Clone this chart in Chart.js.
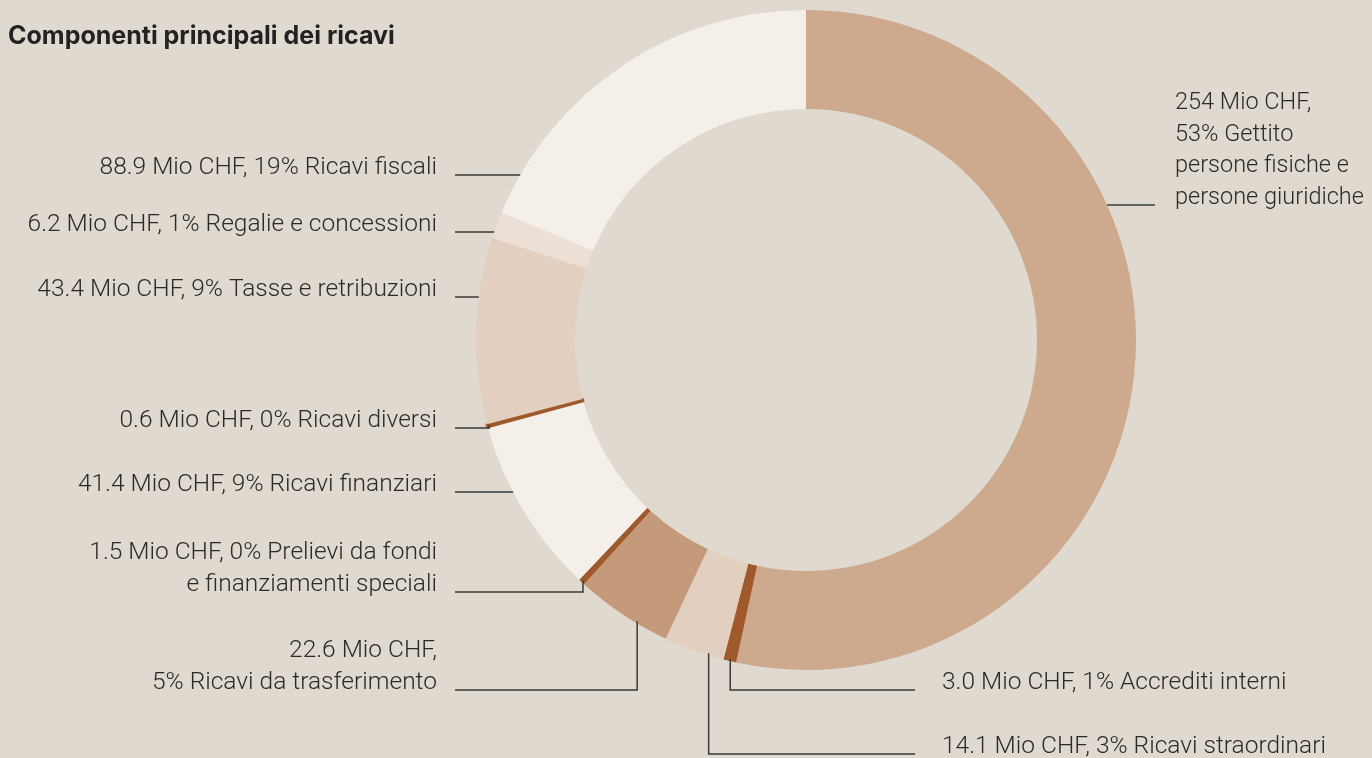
<!DOCTYPE html>
<html>
<head>
<meta charset="utf-8">
<script src="https://cdn.jsdelivr.net/npm/chart.js@4.4.1/dist/chart.umd.min.js"></script>
<style>
    html, body { margin: 0; padding: 0; background: #e0d9cf; }
    #wrap { position: relative; width: 1372px; height: 758px; overflow: hidden; }
    h1 { position: absolute; left: 8px; top: 20px; margin: 0; font: 700 25px Inter, sans-serif; line-height: 30px; color: #222; }
    canvas { position: absolute; left: 0; top: 0; }
</style>
</head>
<body>
<div id="wrap">
    <canvas id="chart" width="1372" height="758"></canvas>
    <h1>Componenti principali dei ricavi</h1>
</div>
<script>
// Data (Mio CHF), clockwise from the top
const categories = [
    'Gettito persone fisiche e persone giuridiche',
    'Accrediti interni',
    'Ricavi straordinari',
    'Ricavi da trasferimento',
    'Prelievi da fondi e finanziamenti speciali',
    'Ricavi finanziari',
    'Ricavi diversi',
    'Tasse e retribuzioni',
    'Regalie e concessioni',
    'Ricavi fiscali'
];
const values = [254, 3.0, 14.1, 22.6, 1.5, 41.4, 0.6, 43.4, 6.2, 88.9];
const shares = [53, 1, 3, 5, 0, 9, 0, 9, 1, 19];
const colors = ['#cda98e', '#a0592a', '#e2cfc0', '#c49a7b', '#a0592a', '#f5efea', '#a0592a', '#e2cfc0', '#ecdfd6', '#f5efea'];

// label templates: {v} value, {p} share, | line break
const labelTemplates = [
    '{v} Mio CHF,|{p}% Gettito|persone fisiche e|persone giuridiche',
    '{v} Mio CHF, {p}% Accrediti interni',
    '{v} Mio CHF, {p}% Ricavi straordinari',
    '{v} Mio CHF,|{p}% Ricavi da trasferimento',
    '{v} Mio CHF, {p}% Prelievi da fondi|e finanziamenti speciali',
    '{v} Mio CHF, {p}% Ricavi finanziari',
    '{v} Mio CHF, {p}% Ricavi diversi',
    '{v} Mio CHF, {p}% Tasse e retribuzioni',
    '{v} Mio CHF, {p}% Regalie e concessioni',
    '{v} Mio CHF, {p}% Ricavi fiscali'
];

// where each callout goes: side, text x, leader y, leader start x, mode
const callouts = [
    { side: 'right', tx: 1175, ly: 205, lx: 1155, mode: 'h', size: 23.5 },
    { side: 'right', tx: 942, ly: 690, lx: 915, mode: 'elbow', frac: 0.5 },
    { side: 'right', tx: 942, ly: 754, lx: 915, mode: 'elbow', frac: 0.26 },
    { side: 'left', tx: 437, ly: 690, lx: 455, mode: 'elbow', frac: 0.34 },
    { side: 'left', tx: 437, ly: 592, lx: 455, mode: 'elbow', frac: 0.5 },
    { side: 'left', tx: 437, ly: 492, lx: 455, mode: 'h' },
    { side: 'left', tx: 437, ly: 428, lx: 455, mode: 'elbow', frac: 0.5 },
    { side: 'left', tx: 437, ly: 297, lx: 455, mode: 'h' },
    { side: 'left', tx: 437, ly: 232, lx: 455, mode: 'h' },
    { side: 'left', tx: 437, ly: 175, lx: 455, mode: 'h' }
];

const fmt = v => v >= 100 ? String(v) : v.toFixed(1);
const labelLines = i => labelTemplates[i]
    .replace('{v}', fmt(values[i]))
    .replace('{p}', shares[i])
    .split('|');

const calloutPlugin = {
    id: 'callouts',
    afterDatasetsDraw(chart) {
        const ctx = chart.ctx;
        const meta = chart.getDatasetMeta(0);
        ctx.save();
        meta.data.forEach((arc, i) => {
            const c = callouts[i];
            const p = arc.getProps(['x', 'y', 'startAngle', 'endAngle', 'outerRadius'], true);
            const R = p.outerRadius;
            ctx.strokeStyle = '#3a3a3a';
            ctx.lineWidth = 1.5;
            ctx.beginPath();
            ctx.moveTo(c.lx, c.ly);
            if (c.mode === 'h') {
                const dy = c.ly - p.y;
                const dx = Math.sqrt(Math.max(R * R - dy * dy, 0));
                ctx.lineTo(c.side === 'left' ? p.x - dx : p.x + dx, c.ly);
            } else {
                const a = p.startAngle + c.frac * (p.endAngle - p.startAngle);
                const ax = p.x + Math.cos(a) * (R - 2);
                const ay = p.y + Math.sin(a) * (R - 2);
                ctx.lineTo(ax, c.ly);
                ctx.lineTo(ax, ay);
            }
            ctx.stroke();

            const lines = labelLines(i);
            ctx.fillStyle = '#2a2a2a';
            ctx.font = '300 ' + (c.size || 24.5) + 'px Roboto, sans-serif';
            ctx.textAlign = c.side === 'left' ? 'right' : 'left';
            ctx.textBaseline = 'alphabetic';
            const lh = 31.7;
            lines.forEach((t, k) => {
                const y = c.ly - 1 - (lines.length - 1 - k) * lh;
                ctx.fillText(t, c.tx, y);
            });
        });
        ctx.restore();
    }
};

new Chart(document.getElementById('chart'), {
    type: 'doughnut',
    data: {
        labels: categories,
        datasets: [{
            data: values,
            backgroundColor: colors,
            borderColor: colors,
            borderWidth: values.map(v => v < 1 ? 3 : 0),
            hoverOffset: 0
        }]
    },
    options: {
        responsive: false,
        animation: false,
        cutout: '70%',
        rotation: 0,
        layout: { padding: { left: 474.5, right: 234.5, top: 8.5, bottom: 86.5 } },
        plugins: {
            legend: { display: false },
            tooltip: { enabled: false }
        }
    },
    plugins: [calloutPlugin]
});
</script>
</body>
</html>
